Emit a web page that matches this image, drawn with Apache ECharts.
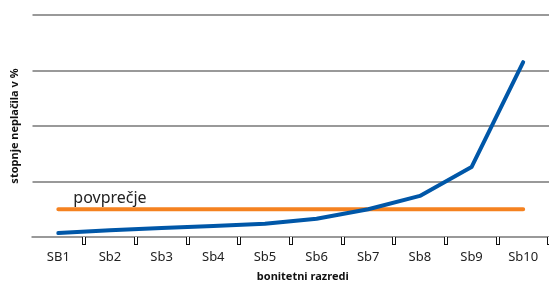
<!DOCTYPE html>
<html>
<head>
<meta charset="utf-8">
<script src="https://cdn.jsdelivr.net/npm/echarts@6/dist/echarts.min.js"></script>
<style>
  html, body { margin: 0; padding: 0; background: #fff; }
  #chart { width: 549px; height: 287px; }
</style>
</head>
<body>
<div id="chart"></div>
<script>
// bonitetni razredi and default rates (units of one gridline step)
const categories = ["SB1", "Sb2", "Sb3", "Sb4", "Sb5", "Sb6", "Sb7", "Sb8", "Sb9", "Sb10"];
const defaultRates = [0.07, 0.12, 0.16, 0.2, 0.24, 0.33, 0.5, 0.74, 1.26, 3.15];
const averageRate = [0.5, 0.5, 0.5, 0.5, 0.5, 0.5, 0.5, 0.5, 0.5, 0.5];
const averageLabel = "povprečje";

const font = "Noto Sans";
const chart = echarts.init(document.getElementById("chart"));

const baseX = {
  type: "category",
  data: categories,
  boundaryGap: true,
  axisLine: { lineStyle: { color: "#999", width: 2 } },
};

chart.setOption({
  animation: false,
  grid: {
    left: 32.5,
    right: -14,
    top: 15,
    bottom: 46,
  },
  xAxis: [
    {
      ...baseX,
      name: "bonitetni razredi",
      nameLocation: "middle",
      nameGap: 34,
      nameTextStyle: {
        fontFamily: font,
        fontWeight: "bold",
        fontSize: 11,
        color: "#111",
        padding: [0, 0, 0, 24],
      },
      axisTick: {
        show: true,
        length: 8,
        interval: (index) => index > 0,
        lineStyle: { color: "#111", width: 4 },
      },
      axisLabel: {
        fontFamily: font,
        fontSize: 13,
        color: "#222",
        margin: 14,
      },
    },
    {
      // white inner part of the hollow tick marks
      ...baseX,
      position: "bottom",
      axisTick: {
        show: true,
        length: 7,
        interval: (index) => index > 0,
        lineStyle: { color: "#fff", width: 2 },
      },
      axisLabel: { show: false },
    },
  ],
  yAxis: {
    type: "value",
    min: 0,
    max: 4,
    interval: 1,
    name: "stopnje neplačila v %",
    nameLocation: "middle",
    nameGap: 12,
    nameTextStyle: {
      fontFamily: font,
      fontWeight: "bold",
      fontSize: 11,
      color: "#111",
    },
    axisLabel: { show: false },
    axisTick: { show: false },
    axisLine: { show: false },
    splitLine: { lineStyle: { color: "#999", width: 2 } },
  },
  series: [
    {
      name: averageLabel,
      type: "line",
      data: averageRate.map((v, i) =>
        i === 1
          ? {
              value: v,
              label: {
                show: true,
                position: "top",
                distance: 3,
                formatter: averageLabel,
                fontFamily: font,
                fontSize: 16,
                color: "#222",
              },
            }
          : v
      ),
      symbol: "circle",
      symbolSize: 0,
      showSymbol: true,
      lineStyle: { color: "#f58220", width: 4, cap: "round" },
      z: 2,
    },
    {
      name: "stopnje",
      type: "line",
      data: defaultRates,
      symbol: "none",
      lineStyle: { color: "#0057a8", width: 4, cap: "round", join: "round" },
      z: 3,
    },
  ],
});
</script>
</body>
</html>
